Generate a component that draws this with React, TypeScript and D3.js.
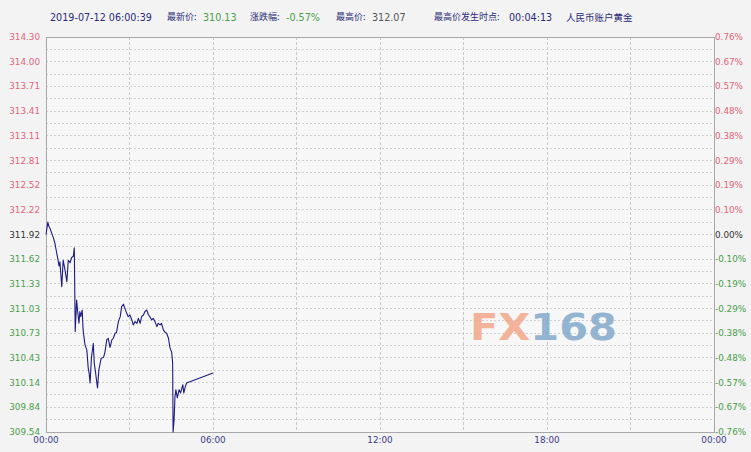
import React from "react";
import * as d3 from "d3";

// Intraday CNY gold account price (minutes since 00:00, price)
const timeMinutes = [
  0, 4, 6, 9, 12, 16, 19, 23, 26, 28, 30, 34, 37, 41, 45, 48, 52, 55, 59, 61,
  63, 66, 68, 71, 73, 75, 78, 80, 84, 88, 91, 93, 95, 98, 102, 104, 107, 111,
  114, 119, 124, 127, 131, 134, 138, 142, 145, 149, 152, 156, 160, 163, 167,
  170, 174, 177, 181, 185, 188, 192, 196, 199, 203, 206, 210, 213, 217, 221,
  224, 228, 231, 235, 239, 242, 246, 249, 253, 257, 260, 264, 267, 271, 273,
  274, 276, 278, 280, 283, 287, 290, 295, 297, 300, 303, 360,
];
const prices = [
  311.92, 312.07, 312.02, 311.99, 311.94, 311.88, 311.82, 311.7, 311.61,
  311.54, 311.59, 311.29, 311.61, 311.49, 311.35, 311.61, 311.58, 311.64,
  311.66, 311.76, 310.75, 311.13, 311.01, 310.85, 310.99, 310.93, 311.01,
  310.77, 310.59, 310.53, 310.31, 310.25, 310.13, 310.44, 310.61, 310.37,
  310.25, 310.07, 310.29, 310.43, 310.44, 310.5, 310.65, 310.67, 310.56,
  310.65, 310.67, 310.73, 310.74, 310.87, 310.93, 311.05, 311.08, 311.03,
  310.97, 310.93, 310.95, 310.89, 310.83, 310.87, 310.85, 310.91, 310.85,
  310.93, 310.95, 310.99, 311.01, 310.95, 310.93, 310.89, 310.91, 310.87,
  310.81, 310.85, 310.83, 310.85, 310.77, 310.74, 310.73, 310.67, 310.56,
  310.5, 310.37, 309.54, 309.68, 309.96, 310.05, 309.95, 310.05, 310.01,
  310.11, 310.01, 310.08, 310.13, 310.25,
];

const priceTicks = [
  "314.30", "314.00", "313.71", "313.41", "313.11", "312.81", "312.52",
  "312.22", "311.92", "311.62", "311.33", "311.03", "310.73", "310.43",
  "310.14", "309.84", "309.54",
];
const pctTicks = [
  "0.76%", "0.67%", "0.57%", "0.48%", "0.38%", "0.29%", "0.19%", "0.10%",
  "0.00%", "-0.10%", "-0.19%", "-0.29%", "-0.38%", "-0.48%", "-0.57%",
  "-0.67%", "-0.76%",
];
const timeTicks = ["00:00", "06:00", "12:00", "18:00", "00:00"];

const headerDate = "2019-07-12 06:00:39";
const latestPrice = "310.13";
const changePct = "-0.57%";
const highPrice = "312.07";
const highTime = "00:04:13";
const productName = "人民币账户黄金";

const W = 751;
const H = 452;
const left = 46;
const right = 714;
const top = 37;
const bottom = 432;

const UP = "#e2647a";
const DOWN = "#4a9e4a";
const NAVY = "#2a2a78";
const FONT = "'DejaVu Sans', Verdana, sans-serif";
const CJK = "'Noto Sans CJK SC', sans-serif";

export default function App() {
  const x = d3.scaleLinear().domain([0, 1440]).range([left, right]);
  const y = d3
    .scaleLinear()
    .domain([+priceTicks[priceTicks.length - 1], +priceTicks[0]])
    .range([bottom, top]);
  const tickY = d3
    .scaleLinear()
    .domain([0, priceTicks.length - 1])
    .range([top, bottom]);

  const line = d3
    .line<number>()
    .x((_, i) => x(timeMinutes[i]))
    .y((d) => y(d));

  const half = d3.range(1, (priceTicks.length - 1) * 2);
  const vLines = d3.range(1, 8).map((k) => x(k * 180));
  const baseIdx = 8;

  return (
    <svg
      width={W}
      height={H}
      style={{ position: "fixed", left: 0, top: 0, background: "#f3f3f3" }}
    >
      <rect x={0} y={0} width={W} height={H} fill="#f3f3f3" />
      <rect
        x={left}
        y={top}
        width={right - left}
        height={bottom - top}
        fill="#f7f7f7"
      />
      {half.map((k) => (
        <line
          key={"h" + k}
          x1={left}
          x2={right}
          y1={top + ((bottom - top) * k) / 32}
          y2={top + ((bottom - top) * k) / 32}
          stroke="#d0d0d0"
          strokeDasharray="2,2"
          strokeWidth={1}
          shapeRendering="crispEdges"
        />
      ))}
      {vLines.map((vx, k) => (
        <line
          key={"v" + k}
          x1={vx}
          x2={vx}
          y1={top}
          y2={bottom}
          stroke="#c8c8c8"
          strokeDasharray="3,2"
          shapeRendering="crispEdges"
        />
      ))}
      <rect
        x={left}
        y={top}
        width={right - left}
        height={bottom - top}
        fill="none"
        stroke="#a8a8a8"
        shapeRendering="crispEdges"
      />

      {/* watermark */}
      <text
        x={470}
        y={340}
        fontFamily={FONT}
        fontWeight="bold"
        fontSize={37}
        textLength={147}
        lengthAdjust="spacingAndGlyphs"
        opacity={0.85}
      >
        <tspan fill="#f3a88a">FX</tspan>
        <tspan fill="#82aacb">168</tspan>
      </text>

      <path
        d={line(prices) || ""}
        fill="none"
        stroke="#1c1c82"
        strokeWidth={1.1}
        strokeLinejoin="round"
      />

      {priceTicks.map((t, i) => (
        <text
          key={"l" + i}
          x={40}
          y={tickY(i)}
          dy="0.35em"
          textAnchor="end"
          fontFamily={FONT}
          fontSize={8.8}
          fill={i < baseIdx ? UP : i === baseIdx ? "#333" : DOWN}
        >
          {t}
        </text>
      ))}
      {pctTicks.map((t, i) => (
        <text
          key={"r" + i}
          x={715}
          y={tickY(i)}
          dy="0.35em"
          fontFamily={FONT}
          fontSize={8.8}
          fill={i < baseIdx ? UP : i === baseIdx ? "#333" : DOWN}
        >
          {t}
        </text>
      ))}
      {timeTicks.map((t, i) => (
        <text
          key={"t" + i}
          x={x(i * 360)}
          y={443}
          textAnchor="middle"
          fontFamily={FONT}
          fontSize={8.8}
          fill="#3a3a8a"
        >
          {t}
        </text>
      ))}

      {/* header */}
      <g fontSize={9.6} dominantBaseline="middle">
        <text x={50} y={18} fontFamily={FONT} fill={NAVY}>
          {headerDate}
        </text>
        <text x={167} y={18} fontFamily={CJK} fill={NAVY} fontSize={9}>
          最新价:
        </text>
        <text x={203} y={18} fontFamily={FONT} fill={DOWN}>
          {latestPrice}
        </text>
        <text x={250} y={18} fontFamily={CJK} fill={NAVY} fontSize={9}>
          涨跌幅:
        </text>
        <text x={286} y={18} fontFamily={FONT} fill={DOWN}>
          {changePct}
        </text>
        <text x={336} y={18} fontFamily={CJK} fill={NAVY} fontSize={9}>
          最高价:
        </text>
        <text x={372} y={18} fontFamily={FONT} fill="#555">
          {highPrice}
        </text>
        <text x={434} y={18} fontFamily={CJK} fill={NAVY} fontSize={9}>
          最高价发生时点:
        </text>
        <text x={509} y={18} fontFamily={FONT} fill={NAVY}>
          {highTime}
        </text>
        <text x={566} y={18} fontFamily={CJK} fill={NAVY} fontSize={9.5}>
          {productName}
        </text>
      </g>
    </svg>
  );
}
